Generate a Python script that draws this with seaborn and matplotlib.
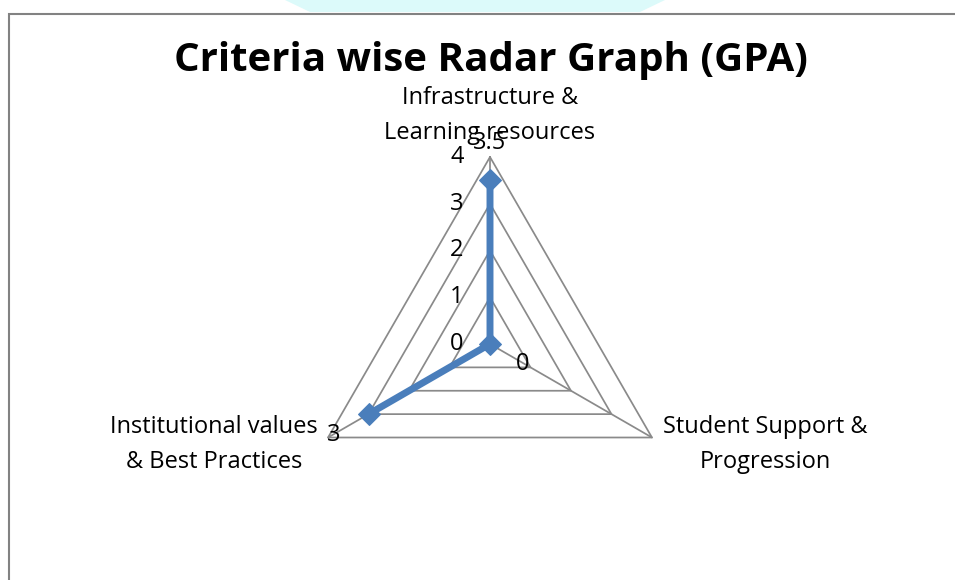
import numpy as np
import pandas as pd
import matplotlib
matplotlib.use("Agg")
import matplotlib.pyplot as plt
from matplotlib.patches import Rectangle, Polygon
import seaborn as sns

# --- chart data ---
criteria = ["Infrastructure &\nLearning resources",
            "Student Support &\nProgression",
            "Institutional values\n& Best Practices"]
gpa = [3.5, 0, 3]
value_labels = ["3.5", "0", "3"]
ring_levels = [1, 2, 3, 4]
tick_values = [0, 1, 2, 3, 4]

sns.set_theme(style="white")
plt.rcParams["font.family"] = ["Open Sans", "DejaVu Sans"]

W, H = 955, 580
fig = plt.figure(figsize=(W / 100, H / 100), dpi=100)
fig.patch.set_facecolor("white")

# faint watermark at the very top + the chart frame
fig.add_artist(Polygon([(285 / W, 1.0), (665 / W, 1.0), (640 / W, 1 - 12 / H), (310 / W, 1 - 12 / H)],
                       closed=True, transform=fig.transFigure, fc="#dcfafa", ec="none", zorder=0))
fig.add_artist(Rectangle((9 / W, -0.1), 1.0, (1 - 14 / H) + 0.1, transform=fig.transFigure,
                         fill=False, ec="#828282", lw=1.5, zorder=1))

# polar axes centred on the radar
cx, cy, rad = 490, 344, 187
ax = fig.add_axes([(cx - rad) / W, (H - cy - rad) / H, 2 * rad / W, 2 * rad / H], projection="polar")
ax.set_theta_offset(np.pi / 2)
ax.set_theta_direction(-1)
ax.set_ylim(0, 4)
ax.grid(False)
ax.spines["polar"].set_visible(False)
ax.set_xticks([])
ax.set_yticks([])
ax.patch.set_alpha(0)

angles = np.linspace(0, 2 * np.pi, len(criteria), endpoint=False)
closed = np.append(angles, angles[0])

grid_color = "#8a8a8a"
for lvl in ring_levels:
    ax.plot(closed, [lvl] * len(closed), color=grid_color, lw=1.25, zorder=1, clip_on=False)
for a in angles:
    ax.plot([a, a], [0, 4], color=grid_color, lw=1.25, zorder=1, clip_on=False)

df = pd.DataFrame({"theta": closed, "gpa": gpa + [gpa[0]]})
sns.lineplot(data=df, x="theta", y="gpa", sort=False, ax=ax, color="#4A7EBB", lw=5,
             marker="D", markersize=11.5, markeredgecolor="#4A7EBB", zorder=3, clip_on=False)
ax.set_xlabel("")
ax.set_ylabel("")

fs = 17
# radial tick labels
for v in tick_values:
    ax.annotate(str(v), xy=(0, v), xytext=(-33, 0), textcoords="offset pixels",
                ha="center", va="center", fontsize=fs, color="black")

# category labels
cat_pos = [((0, 12), "center", "bottom"), ((11, -7), "left", "center"), ((-10, -7), "right", "center")]
for a, name, (off, ha, va) in zip(angles, criteria, cat_pos):
    ax.annotate(name, xy=(a, 4), xytext=off, textcoords="offset pixels", ha=ha, va=va,
                multialignment="center", linespacing=1.62, fontsize=fs, color="black",
                annotation_clip=False)

# data labels
lab_off = [(0, 37), (33, -20), (-35, -21)]
for a, v, txt, off in zip(angles, gpa, value_labels, lab_off):
    ax.annotate(txt, xy=(a, v), xytext=off, textcoords="offset pixels", ha="center", va="center",
                fontsize=fs, color="black", annotation_clip=False)

fig.text(491 / W, 1 - 61 / H, "Criteria wise Radar Graph (GPA)", ha="center", va="center",
         fontsize=29, fontweight="bold", color="black")

fig.savefig("out.png", dpi=100)
